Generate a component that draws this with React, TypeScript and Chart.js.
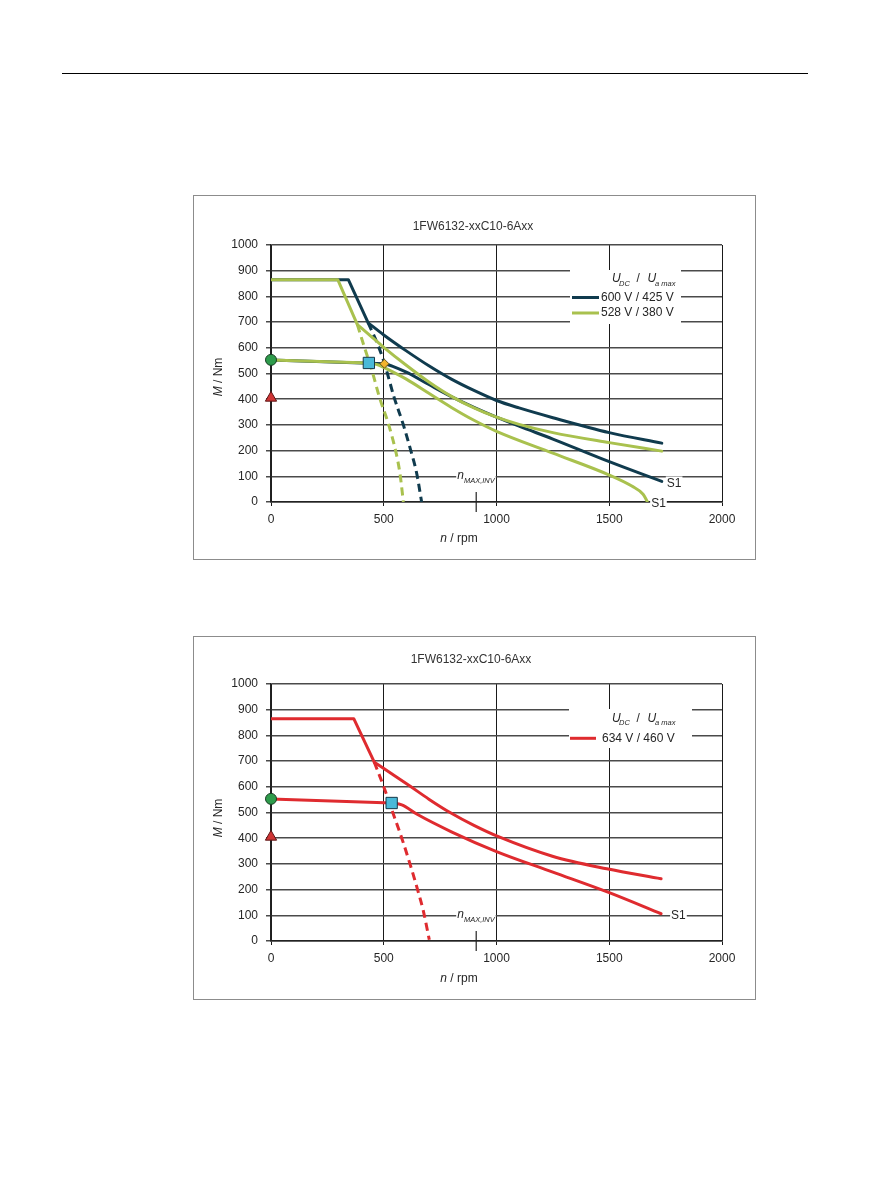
import { useEffect, useRef } from 'react';
import { Chart, registerables } from 'chart.js';

Chart.register(...registerables);

const FONT = '"Liberation Sans", Arial, Helvetica, sans-serif';
const TEXT = '#262626';
const NAVY = '#103b4e';
const GREEN = '#a9c14e';
const RED = '#df2b2f';

const CHART_TITLE = '1FW6132-xxC10-6Axx';
const speedMin = 0;
const speedMax = 2000;
const speedStep = 500;
const torqueMin = 0;
const torqueMax = 1000;
const torqueStep = 100;
const nMaxInv = 910;

// ---- Chart 1: 600 V / 425 V (navy) ----
const n600Corner = [0, 343, 431];
const m600Corner = [865, 865, 697];
const n600Max = [431, 500, 600, 700, 800, 900, 1000, 1100, 1250, 1500, 1733];
const m600Max = [697, 650, 588, 530, 478, 434, 395, 366, 328, 270, 229];
const n600Volt = [431, 470, 503, 545, 587, 620, 646, 668];
const m600Volt = [697, 620, 540, 410, 300, 200, 112, 0];
const n600S1Flat = [0, 503];
const m600S1Flat = [553, 538];
const n600S1 = [503, 540, 600, 700, 800, 900, 1000, 1100, 1250, 1500, 1733];
const m600S1 = [538, 528, 505, 457, 410, 368, 330, 295, 245, 157, 80];

// ---- Chart 1: 528 V / 380 V (green) ----
const n528Corner = [0, 296, 383];
const m528Corner = [865, 865, 690];
const n528Max = [383, 450, 500, 600, 700, 800, 900, 1000, 1100, 1250, 1500, 1733];
const m528Max = [690, 640, 602, 532, 467, 411, 366, 330, 302, 270, 231, 198];
const n528Volt = [383, 415, 445, 480, 522, 555, 572, 587];
const m528Volt = [690, 600, 520, 410, 300, 190, 110, 0];
const n528S1Flat = [0, 434];
const m528S1Flat = [553, 541];
const n528S1 = [434, 480, 520, 600, 700, 800, 900, 1000, 1250, 1500, 1600, 1650, 1668];
const m528S1 = [541, 532, 515, 478, 423, 368, 318, 275, 190, 105, 62, 30, 3];

// ---- Chart 2: 634 V / 460 V (red) ----
const n634Corner = [0, 367, 458];
const m634Corner = [865, 865, 696];
const n634Max = [458, 540, 616, 700, 794, 900, 1006, 1248, 1489, 1730];
const m634Max = [696, 648, 603, 552, 500, 450, 407, 330, 281, 242];
const n634Volt = [458, 500, 542, 580, 616, 650, 675, 702];
const m634Volt = [696, 600, 495, 400, 301, 200, 119, 5];
const n634S1Flat = [0, 535];
const m634S1Flat = [553, 537];
const n634S1 = [535, 580, 650, 800, 1000, 1250, 1500, 1730];
const m634S1 = [537, 530, 492, 425, 348, 268, 188, 106];

// ---- Markers ----
const circleN = [0];
const circleM = [553];
const triangleN = [0];
const triangleM = [405];
const square1N = [434];
const square1M = [541];
const diamond1N = [503];
const diamond1M = [538];
const square2N = [535];
const square2M = [537];

const legend1Labels = ['600 V / 425 V', '528 V / 380 V'];
const legend2Labels = ['634 V / 460 V'];

const pts = (xs: number[], ys: number[]) => xs.map((x, i) => ({ x, y: ys[i] }));

function curve(xs: number[], ys: number[], color: string, order: number, opts: { dashed?: boolean; smooth?: boolean } = {}) {
  return {
    data: pts(xs, ys),
    showLine: true,
    borderColor: color,
    backgroundColor: color,
    borderWidth: 3,
    borderDash: opts.dashed ? [8, 5] : [],
    borderCapStyle: opts.dashed ? 'butt' : 'round',
    borderJoinStyle: 'round',
    pointRadius: 0,
    pointHoverRadius: 0,
    tension: 0,
    cubicInterpolationMode: opts.smooth ? 'monotone' : 'default',
    order,
  };
}

function marker(xs: number[], ys: number[], style: string, radius: number, fill: string, stroke: string) {
  return {
    data: pts(xs, ys),
    showLine: false,
    pointStyle: style,
    pointRadius: radius,
    pointHoverRadius: radius,
    pointBackgroundColor: fill,
    pointBorderColor: stroke,
    pointBorderWidth: 1,
    order: 0,
    clip: false,
  };
}

function chart1Datasets() {
  return [
    marker(circleN, circleM, 'circle', 5.5, '#2e9b4b', '#173d22'),
    marker(triangleN, triangleM, 'triangle', 6.5, '#cf3434', '#5c1515'),
    marker(square1N, square1M, 'rect', 8, '#4ab9d8', '#163847'),
    marker(diamond1N, diamond1M, 'rectRot', 4.5, '#f2b42c', '#6b5518'),
    curve(n528Corner, m528Corner, GREEN, 2),
    curve(n528Max, m528Max, GREEN, 2, { smooth: true }),
    curve(n528Volt, m528Volt, GREEN, 2, { smooth: true, dashed: true }),
    curve(n528S1Flat, m528S1Flat, GREEN, 2),
    curve(n528S1, m528S1, GREEN, 2, { smooth: true }), // 8
    curve(n600Corner, m600Corner, NAVY, 4),
    curve(n600Max, m600Max, NAVY, 4, { smooth: true }),
    curve(n600Volt, m600Volt, NAVY, 4, { smooth: true, dashed: true }),
    curve(n600S1Flat, m600S1Flat, NAVY, 4),
    curve(n600S1, m600S1, NAVY, 4, { smooth: true }), // 13
  ];
}

function chart2Datasets() {
  return [
    marker(circleN, circleM, 'circle', 5.5, '#2e9b4b', '#173d22'),
    marker(triangleN, triangleM, 'triangle', 6.5, '#cf3434', '#5c1515'),
    marker(square2N, square2M, 'rect', 8, '#4ab9d8', '#163847'),
    curve(n634Corner, m634Corner, RED, 2),
    curve(n634Max, m634Max, RED, 2, { smooth: true }),
    curve(n634Volt, m634Volt, RED, 2, { smooth: true, dashed: true }),
    curve(n634S1Flat, m634S1Flat, RED, 2),
    curve(n634S1, m634S1, RED, 2, { smooth: true }), // 7
  ];
}

type Part = { t: string; italic?: boolean; size?: number; dy?: number };

function drawParts(ctx: CanvasRenderingContext2D, parts: Part[], x: number, y: number, align: 'left' | 'center') {
  const fonts = parts.map((p) => `${p.italic ? 'italic ' : ''}${p.size ?? 12}px ${FONT}`);
  const widths = parts.map((p, i) => {
    ctx.font = fonts[i];
    return ctx.measureText(p.t).width;
  });
  const total = widths.reduce((a, b) => a + b, 0);
  let cx = align === 'center' ? x - total / 2 : x;
  ctx.textAlign = 'left';
  ctx.textBaseline = 'middle';
  parts.forEach((p, i) => {
    ctx.font = fonts[i];
    ctx.fillText(p.t, cx, y + (p.dy ?? 0));
    cx += widths[i];
  });
}

type OverlayCfg = {
  titleX: number;
  titleY: number;
  legendRect: [number, number, number, number];
  headerY: number;
  entries: { label: string; color: string; y: number }[];
  swatch: [number, number];
  textX: number;
  s1: { ds: number; dx: number; dy: number }[];
  yTitle: [number, number];
  xTitle: [number, number];
};

function overlay(cfg: OverlayCfg) {
  return {
    id: 'overlay',
    afterDraw(chart: any) {
      const ctx: CanvasRenderingContext2D = chart.ctx;
      const area = chart.chartArea;
      const xs = chart.scales.x;
      ctx.save();
      // title
      ctx.fillStyle = '#333';
      ctx.font = `12px ${FONT}`;
      ctx.textAlign = 'center';
      ctx.textBaseline = 'middle';
      ctx.fillText(CHART_TITLE, cfg.titleX, cfg.titleY);
      // axis titles
      ctx.fillStyle = TEXT;
      ctx.save();
      ctx.translate(cfg.yTitle[0], cfg.yTitle[1]);
      ctx.rotate(-Math.PI / 2);
      drawParts(ctx, [{ t: 'M', italic: true }, { t: ' / Nm' }], 0, 0, 'center');
      ctx.restore();
      drawParts(ctx, [{ t: 'n', italic: true }, { t: ' / rpm' }], cfg.xTitle[0], cfg.xTitle[1], 'center');
      // n max inverter marker
      const px = xs.getPixelForValue(nMaxInv);
      ctx.fillStyle = '#fff';
      ctx.fillRect(px - 20, area.bottom - 33, 39.5, 16);
      ctx.fillStyle = TEXT;
      drawParts(ctx, [{ t: 'n', italic: true }, { t: 'MAX,INV', italic: true, size: 7.5, dy: 5 }], px - 19, area.bottom - 26, 'left');
      ctx.strokeStyle = '#222';
      ctx.lineWidth = 1.2;
      ctx.beginPath();
      ctx.moveTo(px, area.bottom - 10);
      ctx.lineTo(px, area.bottom + 10);
      ctx.stroke();
      // S1 labels
      ctx.font = `12px ${FONT}`;
      cfg.s1.forEach((s) => {
        const meta = chart.getDatasetMeta(s.ds);
        const last = meta.data[meta.data.length - 1];
        const x = last.x + s.dx;
        const y = last.y + s.dy;
        const w = ctx.measureText('S1').width;
        ctx.fillStyle = '#fff';
        ctx.fillRect(x - 1, y - 7, w + 2, 14);
        ctx.fillStyle = TEXT;
        ctx.textAlign = 'left';
        ctx.textBaseline = 'middle';
        ctx.fillText('S1', x, y);
      });
      // legend
      const [lx, ly, lw, lh] = cfg.legendRect;
      ctx.fillStyle = '#fff';
      ctx.fillRect(lx, ly, lw, lh);
      ctx.fillStyle = TEXT;
      const hy = cfg.headerY;
      drawParts(ctx, [{ t: 'U', italic: true }], 419, hy, 'left');
      drawParts(ctx, [{ t: 'DC', italic: true, size: 7.5 }], 426, hy + 5, 'left');
      drawParts(ctx, [{ t: '/' }], 443.5, hy, 'left');
      drawParts(ctx, [{ t: 'U', italic: true }], 454.5, hy, 'left');
      drawParts(ctx, [{ t: 'a max', italic: true, size: 7.5 }], 462, hy + 5, 'left');
      cfg.entries.forEach((e) => {
        ctx.strokeStyle = e.color;
        ctx.lineWidth = 3;
        ctx.beginPath();
        ctx.moveTo(cfg.swatch[0], e.y);
        ctx.lineTo(cfg.swatch[1], e.y);
        ctx.stroke();
        ctx.fillStyle = TEXT;
        ctx.font = `12px ${FONT}`;
        ctx.textAlign = 'left';
        ctx.textBaseline = 'middle';
        ctx.fillText(e.label, cfg.textX, e.y);
      });
      ctx.restore();
    },
  };
}

type ChartProps = {
  top: number;
  height: number;
  padTop: number;
  xAxisH: number;
  build: () => any[];
  ov: OverlayCfg;
};

const plainTick = (v: any) => String(v);

function TorqueChart({ top, height, padTop, xAxisH, build, ov }: ChartProps) {
  const ref = useRef<HTMLCanvasElement>(null);
  useEffect(() => {
    const chart = new Chart(ref.current as HTMLCanvasElement, {
      type: 'scatter',
      data: { datasets: build() as any },
      options: {
        animation: false,
        responsive: false,
        maintainAspectRatio: false,
        devicePixelRatio: 1,
        events: [],
        layout: { padding: { left: 0, right: 34, top: padTop, bottom: 0 } },
        plugins: {
          legend: { display: false },
          title: { display: false },
          tooltip: { enabled: false },
        },
        scales: {
          x: {
            type: 'linear',
            min: speedMin,
            max: speedMax,
            ticks: { stepSize: speedStep, color: TEXT, padding: 6, maxRotation: 0, callback: plainTick, font: { family: FONT, size: 12 } },
            grid: { color: '#1a1a1a', lineWidth: 1, tickLength: 4 },
            border: { color: '#222', width: 1.5 },
            afterFit: (s: any) => {
              s.height = xAxisH;
            },
          },
          y: {
            type: 'linear',
            min: torqueMin,
            max: torqueMax,
            ticks: { stepSize: torqueStep, color: TEXT, padding: 8, callback: plainTick, font: { family: FONT, size: 12 } },
            grid: { color: '#4a4a4a', lineWidth: 1.5, tickLength: 5 },
            border: { color: '#222', width: 1.5 },
            afterFit: (s: any) => {
              s.width = 78;
            },
          },
        },
      } as any,
      plugins: [overlay(ov)],
    });
    return () => chart.destroy();
  }, []);
  return (
    <>
      <div
        style={{
          position: 'absolute',
          left: 193,
          top,
          width: 563,
          height,
          border: '1px solid #8c8c8c',
          boxSizing: 'border-box',
          background: '#fff',
        }}
      />
      <canvas ref={ref} width={563} height={height} style={{ position: 'absolute', left: 193, top, width: 563, height }} />
    </>
  );
}

const ov1: OverlayCfg = {
  titleX: 280,
  titleY: 31.7,
  legendRect: [377, 75, 111, 54],
  headerY: 83.5,
  entries: [
    { label: legend1Labels[0], color: NAVY, y: 102.5 },
    { label: legend1Labels[1], color: GREEN, y: 118 },
  ],
  swatch: [379, 406],
  textX: 408,
  s1: [
    { ds: 13, dx: 5, dy: 2 },
    { ds: 8, dx: 4, dy: 2 },
  ],
  yTitle: [26, 182],
  xTitle: [266, 343.3],
};

const ov2: OverlayCfg = {
  titleX: 278,
  titleY: 23.3,
  legendRect: [376, 73, 123, 39],
  headerY: 82.3,
  entries: [{ label: legend2Labels[0], color: RED, y: 102.3 }],
  swatch: [377, 403],
  textX: 409,
  s1: [{ ds: 7, dx: 10, dy: 1.5 }],
  yTitle: [26, 182],
  xTitle: [266, 342.3],
};

export default function App() {
  return (
    <div>
      <div style={{ position: 'absolute', left: 62, top: 73, width: 746, height: 1, background: '#000' }} />
      <TorqueChart top={195} height={365} padTop={50} xAxisH={58} build={chart1Datasets} ov={ov1} />
      <TorqueChart top={636} height={364} padTop={48} xAxisH={59} build={chart2Datasets} ov={ov2} />
    </div>
  );
}
